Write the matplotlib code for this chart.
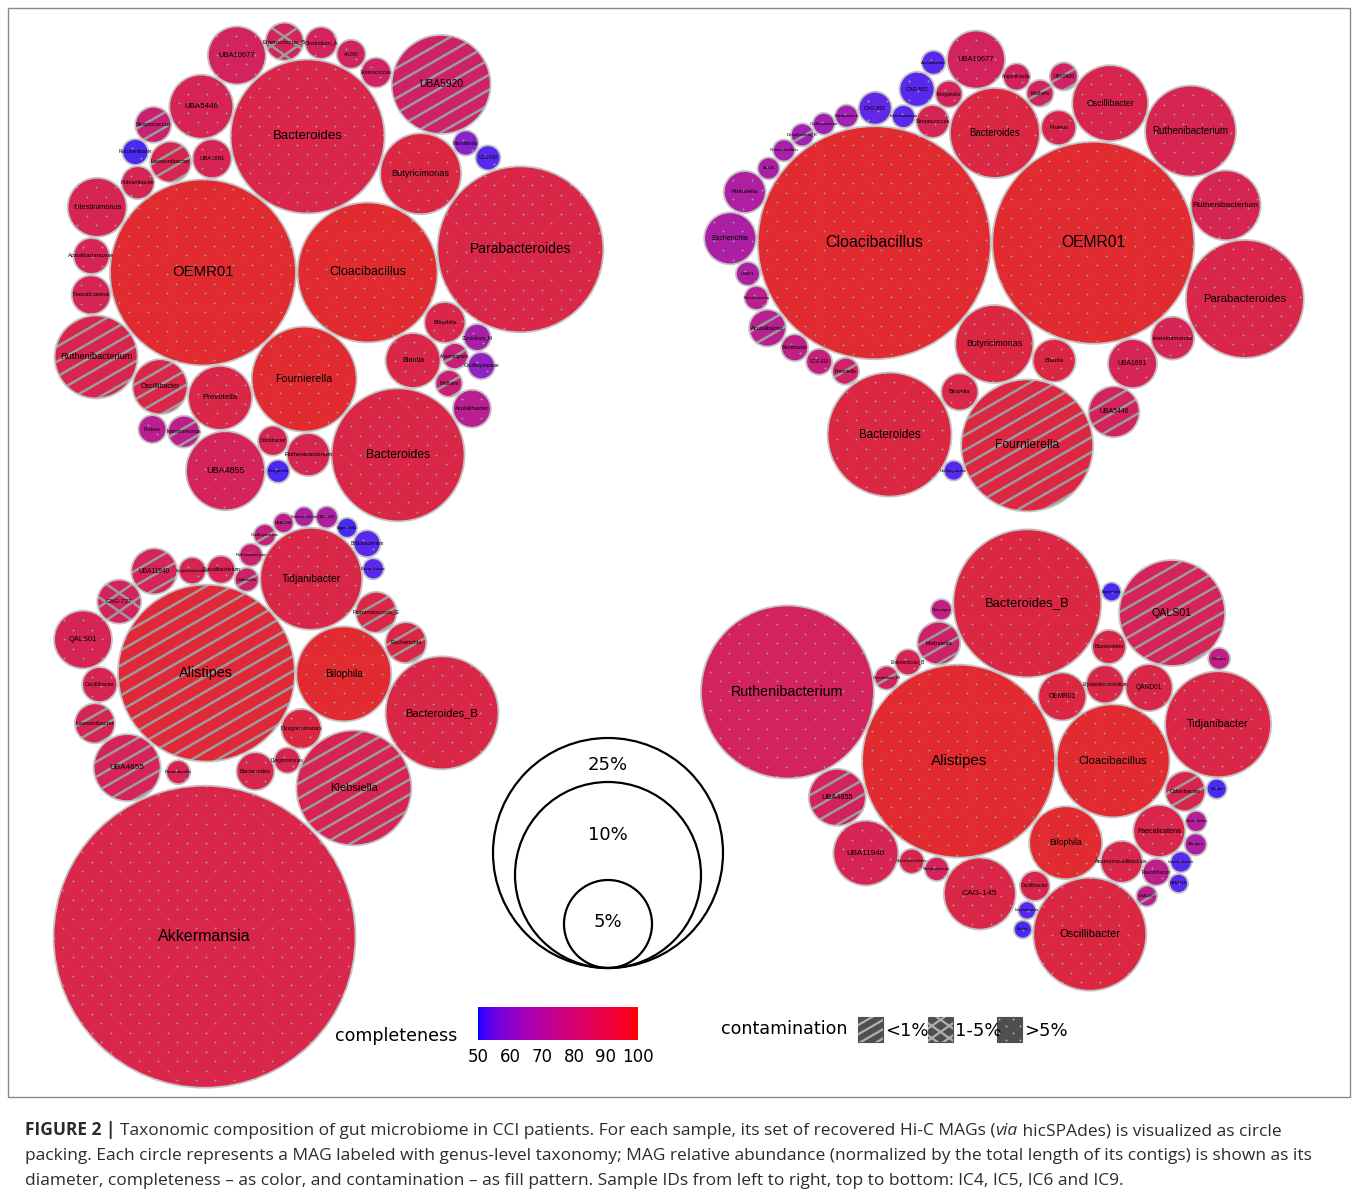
import numpy as np
import matplotlib
matplotlib.use("Agg")
import matplotlib.pyplot as plt
from matplotlib.patches import Circle, Rectangle
from matplotlib.collections import LineCollection
from matplotlib.colors import ListedColormap

W, H = 1358, 1192

# MAG tables per sample: genus label, relative abundance (diameter units),
# completeness (%), contamination class
ic4_names = ["OEMR01", "Parabacteroides", "Bacteroides", "Cloacibacillus", "Bacteroides",
             "Fournierella", "UBA5920", "Ruthenibacterium", "Butyricimonas", "UBA4855",
             "Prevotella", "UBA5446", "Intestinimonas", "UBA10677", "Oscillibacter",
             "Blautia", "Ruthenibacterium", "Bilophila", "Lawsonibacter", "Faecalicatena",
             "UBA1691", "Enterococcus_B", "Acutalibacter", "Acutalibacteraceae", "Streptococcus",
             "Rubneribacter", "Clostridium_A", "Intestinimonas", "Enterococcus", "Odoribacter",
             "An200", "Proteus", "Clostridium_M", "Oscillospiraceae", "Mailhella",
             "Anaerotignum", "Fusicatenibacter", "Massiliimalia", "UCG-010", "Morganella"]
ic4_abund = [18.6, 16.6, 15.4, 14.0, 13.3, 10.5, 9.9, 8.3, 8.1, 7.9,
             6.4, 6.4, 5.9, 5.8, 5.5, 5.5, 4.3, 4.1, 4.1, 3.9,
             3.9, 3.8, 3.8, 3.6, 3.6, 3.3, 3.2, 3.2, 3.0, 3.0,
             2.9, 2.8, 2.7, 2.7, 2.7, 2.6, 2.6, 2.5, 2.5, 2.3]
ic4_compl = [98, 92, 91, 98, 92, 98, 83, 90, 93, 87,
             92, 88, 89, 86, 91, 92, 89, 91, 89, 88,
             88, 87, 72, 88, 80, 89, 86, 74, 84, 88,
             85, 72, 66, 60, 80, 78, 51, 58, 52, 51]
ic4_contam = [">5%", ">5%", ">5%", ">5%", ">5%", ">5%", "<1%", "<1%", ">5%", ">5%",
              ">5%", ">5%", ">5%", ">5%", "<1%", ">5%", ">5%", ">5%", "<1%", ">5%",
              ">5%", "1-5%", ">5%", ">5%", "<1%", ">5%", ">5%", "<1%", ">5%", ">5%",
              ">5%", ">5%", ">5%", ">5%", "<1%", "<1%", ">5%", ">5%", ">5%", ">5%"]

ic5_names = ["Cloacibacillus", "OEMR01", "Fournierella", "Bacteroides", "Parabacteroides",
             "Ruthenibacterium", "Bacteroides", "Butyricimonas", "Oscillibacter", "Ruthenibacterium",
             "UBA10677", "Escherichia", "UBA5446", "UBA1691", "Intestinimonas",
             "Blautia", "Klebsiella", "Bilophila", "Acutalibacter", "Proteus",
             "CAG-552", "CAG-552", "Streptococcus", "UBA5920", "Morganella",
             "Angelakisella", "Mailhella", "Merdibacter", "Prevotella", "UCG-010",
             "Acutalibacter", "UBA71", "Enterococcus", "Intestinimonas", "Eubacterium",
             "Desulfovibrio_R", "Oscillospiraceae", "Christensenellales", "An200", "Oscillospiraceae"]
ic5_abund = [23.3, 20.2, 13.2, 12.4, 11.8, 9.1, 9.0, 7.8, 7.6, 7.0,
             5.8, 5.2, 5.1, 4.9, 4.3, 4.3, 4.2, 3.7, 3.7, 3.5,
             3.5, 3.3, 3.3, 2.8, 2.7, 2.7, 2.7, 2.7, 2.7, 2.6,
             2.4, 2.4, 2.4, 2.3, 2.3, 2.3, 2.2, 2.2, 2.2, 2.0]
ic5_compl = [98, 98, 93, 93, 91, 89, 93, 93, 90, 89,
             86, 67, 86, 88, 88, 93, 68, 92, 72, 90,
             52, 53, 88, 84, 87, 86, 85, 75, 84, 78,
             52, 68, 72, 52, 64, 64, 64, 66, 67, 52]
ic5_contam = [">5%", ">5%", "<1%", ">5%", ">5%", ">5%", ">5%", ">5%", ">5%", ">5%",
              ">5%", ">5%", "<1%", ">5%", ">5%", ">5%", ">5%", ">5%", "<1%", ">5%",
              ">5%", ">5%", ">5%", "<1%", ">5%", ">5%", "<1%", ">5%", "<1%", ">5%",
              ">5%", ">5%", ">5%", ">5%", ">5%", "<1%", ">5%", ">5%", ">5%", ">5%"]

ic6_names = ["Akkermansia", "Alistipes", "Klebsiella", "Bacteroides_B", "Tidjanibacter",
             "Bilophila", "UBA4855", "QALS01", "UBA11940", "CAG-727",
             "Ruminococcus_E", "Escherichia", "Lawsonibacter", "Dysgonomonas", "Bacteroides",
             "Oscillibacter", "Faecalibacterium", "Erysipelatoclostridium", "Bifidobacterium", "Dysgonomonas",
             "Collinsella", "Parasutterella", "Ruthenibacterium", "Oscillospiraceae", "CAG-145",
             "Flavonifractor", "UBA4248", "Christensenellaceae", "Eggerthella"]
ic6_abund = [30.2, 17.7, 11.5, 11.3, 10.2, 9.5, 6.7, 5.8, 4.6, 4.4,
             4.1, 4.1, 4.0, 4.0, 3.8, 3.5, 2.8, 2.7, 2.7, 2.6,
             2.4, 2.4, 2.3, 2.2, 2.2, 2.1, 2.0, 2.0, 2.0]
ic6_compl = [91, 96, 88, 92, 92, 98, 87, 88, 87, 86,
             92, 92, 88, 93, 90, 89, 88, 88, 52, 89,
             82, 88, 82, 78, 68, 52, 75, 68, 51]
ic6_contam = [">5%", "<1%", "<1%", ">5%", ">5%", ">5%", "<1%", ">5%", "<1%", "1-5%",
              "<1%", "<1%", "<1%", ">5%", ">5%", ">5%", ">5%", ">5%", ">5%", ">5%",
              "<1%", ">5%", ">5%", "<1%", ">5%", ">5%", ">5%", ">5%", ">5%"]

ic9_names = ["Alistipes", "Ruthenibacterium", "Bacteroides_B", "Cloacibacillus", "Oscillibacter",
             "QALS01", "Tidjanibacter", "Bilophila", "CAG-145", "UBA11940",
             "UBA4855", "OEMR01", "QAND01", "Faecalicatena", "Klebsiella",
             "Anaeromassilibacillus", "Odoribacter", "Erysipelatoclostridium", "Bacteroides", "Oscillibacter",
             "Enterococcus_B", "Christensenellales", "Streptococcus", "Clostridium_M", "Proteus",
             "Gemmiger", "Eggerthella", "Blautia", "Intestinimonas", "Blautia",
             "Bacteroides", "Alistipes", "Lawsonibacter", "UBA1946", "UBA1382", "Flavonifractor"]
ic9_abund = [19.3, 17.3, 14.8, 11.3, 11.3, 10.6, 10.6, 7.3, 7.2, 6.5,
             5.7, 4.8, 4.7, 5.2, 4.3, 4.2, 4.0, 3.8, 3.4, 3.0,
             2.6, 2.5, 2.4, 2.4, 2.2, 2.1, 1.9, 2.0, 1.8, 1.8,
             2.1, 2.2, 2.1, 1.9, 2.1, 2.7]
ic9_compl = [98, 86, 93, 98, 93, 87, 92, 98, 92, 88,
             86, 93, 92, 91, 83, 91, 90, 92, 92, 90,
             88, 90, 86, 86, 75, 76, 51, 51, 52, 51,
             70, 68, 52, 52, 74, 74]
ic9_contam = [">5%", ">5%", ">5%", ">5%", ">5%", "<1%", ">5%", ">5%", ">5%", ">5%",
              "<1%", ">5%", ">5%", ">5%", "<1%", ">5%", "<1%", ">5%", ">5%", ">5%",
              ">5%", ">5%", ">5%", "<1%", ">5%", ">5%", ">5%", ">5%", ">5%", ">5%",
              ">5%", ">5%", ">5%", ">5%", "<1%", ">5%"]

size_legend = [25, 10, 5]
compl_ticks = [50, 60, 70, 80, 90, 100]
contam_classes = ["<1%", "1-5%", ">5%"]

caption_lines = [
    "packing. Each circle represents a MAG labeled with genus-level taxonomy; MAG relative "
    "abundance (normalized by the total length of its contigs) is shown as its",
    "diameter, completeness \u2013 as color, and contamination \u2013 as fill pattern. "
    "Sample IDs from left to right, top to bottom: IC4, IC5, IC6 and IC9.",
]

# packing topology: first two circles, then which two circles each further
# circle rests against: (child, touches a, touches b[, side])
ic4_seed = (0, 3)
ic4_links = [(2, 0, 3), (5, 0, 3), (8, 2, 3), (1, 3, 8), (17, 3, 1), (15, 3, 17), (4, 5, 15),
             (10, 0, 5), (14, 0, 10), (7, 0, 14), (20, 0, 2), (11, 2, 20), (13, 2, 11),
             (18, 0, 20), (25, 0, 18), (12, 0, 25), (23, 0, 12), (19, 0, 23), (24, 11, 18),
             (36, 18, 25), (21, 2, 13), (26, 2, 21), (30, 2, 26), (28, 2, 30), (6, 8, 28),
             (37, 8, 6), (38, 1, 37), (32, 1, 17), (35, 17, 15), (33, 32, 35), (34, 15, 35),
             (22, 4, 34), (16, 5, 4), (29, 5, 16), (9, 10, 29), (39, 9, 16), (27, 10, 9),
             (31, 14, 27)]
ic5_seed = (0, 1)
ic5_links = [(6, 0, 1), (7, 0, 1), (15, 1, 7), (2, 7, 15), (17, 7, 2), (19, 1, 6), (8, 1, 19),
             (5, 1, 8), (9, 1, 5), (4, 1, 9), (14, 1, 4), (13, 1, 14), (12, 13, 2), (22, 0, 6),
             (24, 6, 22), (10, 6, 24), (25, 6, 10), (26, 6, 25), (23, 26, 8), (33, 0, 22),
             (20, 22, 33), (30, 20, 10), (21, 0, 33), (34, 0, 21), (36, 0, 34), (35, 0, 36),
             (37, 0, 35), (38, 0, 37), (16, 0, 38), (11, 0, 16), (31, 0, 11), (32, 0, 31),
             (18, 0, 32), (27, 0, 18), (29, 0, 27), (28, 0, 29), (3, 28, 17), (39, 3, 2)]
ic6_seed = (1, 5)
ic6_links = [(4, 1, 5), (10, 4, 5), (11, 5, 10), (3, 5, 11), (13, 1, 5), (2, 13, 3), (19, 13, 2),
             (14, 1, 19), (0, 14, 2), (20, 4, 1), (16, 1, 20), (17, 1, 16), (8, 1, 17), (9, 1, 8),
             (7, 1, 9), (15, 1, 7), (12, 1, 15), (6, 1, 12), (21, 1, 0, 1), (22, 4, 20),
             (23, 4, 22), (26, 4, 23), (27, 4, 26), (24, 4, 27), (28, 4, 24), (18, 4, 28),
             (25, 4, 18)]
ic9_seed = (0, 1)
ic9_links = [(10, 0, 1, -1), (23, 0, 1), (20, 0, 23), (14, 0, 20), (2, 0, 14), (25, 14, 2),
             (11, 0, 2), (3, 0, 11), (17, 11, 3), (18, 17, 2), (12, 17, 3), (5, 18, 12),
             (26, 2, 5), (6, 3, 12), (24, 5, 6), (16, 3, 6), (27, 6, 16), (13, 3, 16), (7, 0, 3),
             (15, 7, 13), (4, 7, 15), (19, 7, 4), (9, 0, 10), (21, 0, 9), (22, 0, 21), (8, 0, 22),
             (28, 19, 4), (29, 4, 28), (30, 13, 16), (31, 13, 30), (35, 13, 15), (32, 31, 35),
             (33, 32, 35), (34, 4, 35)]

# ---------------------------------------------------------------- helpers
PX = 10.0  # pixels of diameter per abundance unit


def srgb_to_lab(rgb):
    c = np.asarray(rgb, float)
    c = np.where(c <= 0.04045, c / 12.92, ((c + 0.055) / 1.055) ** 2.4)
    m = np.array([[0.4124, 0.3576, 0.1805], [0.2126, 0.7152, 0.0722], [0.0193, 0.1192, 0.9505]])
    xyz = m @ c / np.array([0.95047, 1.0, 1.08883])
    d = 6 / 29
    f = np.where(xyz > d ** 3, np.cbrt(xyz), xyz / (3 * d * d) + 4 / 29)
    return np.array([116 * f[1] - 16, 500 * (f[0] - f[1]), 200 * (f[1] - f[2])])


def lab_to_srgb(lab):
    L, a, b = lab
    fy = (L + 16) / 116
    f = np.array([fy + a / 500, fy, fy - b / 200])
    d = 6 / 29
    xyz = np.where(f > d, f ** 3, 3 * d * d * (f - 4 / 29)) * np.array([0.95047, 1.0, 1.08883])
    m = np.array([[3.2406, -1.5372, -0.4986], [-0.9689, 1.8758, 0.0415], [0.0557, -0.2040, 1.0570]])
    c = np.clip(m @ xyz, 0, 1)
    c = np.where(c <= 0.0031308, 12.92 * c, 1.055 * c ** (1 / 2.4) - 0.055)
    return np.clip(c, 0, 1)


def lab_ramp(lo, hi, n=256, gamma=1.0):
    a, b = srgb_to_lab(lo), srgb_to_lab(hi)
    return ListedColormap([lab_to_srgb(a + t ** gamma * (b - a)) for t in np.linspace(0, 1, n)])


cmap = lab_ramp([0, 0, 1], [1, 0, 0])
# circles are printed a little duller than the key
fill_cmap = lab_ramp(np.array([44, 44, 250]) / 255, np.array([228, 44, 40]) / 255, gamma=0.85)


def fill_colour(compl):
    return fill_cmap((compl - 50) / 50.0)


def tangent_spots(pa, ra, pb, rb, rc):
    v = pb - pa
    d = max(np.hypot(*v), 1e-9)
    u = v / d
    A, B = ra + rc, rb + rc
    if d >= A + B or d <= abs(A - B):
        return [pa + u * (ra + (d - ra - rb) / 2)]
    x = (A * A - B * B + d * d) / (2 * d)
    h = np.sqrt(max(A * A - x * x, 0.0))
    perp = np.array([-u[1], u[0]])
    return [pa + u * x + perp * h, pa + u * x - perp * h]


def build_layout(rad, seed, angle, links):
    n = len(rad)
    pos = np.zeros((n, 2))
    first, second = seed
    done = [first, second]
    t = np.deg2rad(angle)
    pos[second] = np.array([np.cos(t), np.sin(t)]) * (rad[first] + rad[second])
    for link in links:
        c, a, b = link[:3]
        side = link[3] if len(link) > 3 else 0
        spots = tangent_spots(pos[a], rad[a], pos[b], rad[b], rad[c])
        if len(spots) == 1:
            best = spots[0]
        elif side:
            v = pos[b] - pos[a]
            cr = [v[0] * (p[1] - pos[a][1]) - v[1] * (p[0] - pos[a][0]) for p in spots]
            best = spots[0] if np.sign(cr[0]) == side else spots[1]
        else:
            others = [k for k in done if k not in (a, b)]
            pen = []
            for p in spots:
                ov = [rad[k] + rad[c] - np.hypot(*(pos[k] - p)) for k in others]
                pen.append(max([0.0] + ov))
            if max(pen) < 2.0:
                cen = pos[done].mean(axis=0)
                dist = [np.hypot(*(p - cen)) for p in spots]
                if abs(dist[0] - dist[1]) < 1e-6:
                    best = spots[0] if spots[0][1] < spots[1][1] else spots[1]
                else:
                    best = spots[int(np.argmax(dist))]
            else:
                best = spots[int(np.argmin(pen))]
        pos[c] = best
        done.append(c)
    # nudge apart whatever overlaps because of rounding in the sizes
    for _ in range(80):
        moved = False
        for i in range(n):
            for j in range(i + 1, n):
                v = pos[j] - pos[i]
                d = max(np.hypot(*v), 1e-9)
                ov = rad[i] + rad[j] - d
                if ov > 0.3:
                    u = v / d
                    wi = rad[j] ** 2 / (rad[i] ** 2 + rad[j] ** 2)
                    pos[i] -= u * ov * wi
                    pos[j] += u * ov * (1 - wi)
                    moved = True
        if not moved:
            break
    return pos


GREY = "#9c9c9c"


def add_pattern(ax, cx, cy, rad, kind, clip, colour=GREY, lw=1.8, space=13.0, dot=2.5):
    if kind == ">5%":
        step = space + 6
        gx, gy = [], []
        rows = np.arange(cy - rad - step, cy + rad + step, step * 0.5)
        for ri, yy in enumerate(rows):
            off = (step / 2) * (ri % 2)
            for xx in np.arange(cx - rad - step + off, cx + rad + step, step):
                gx.append(xx)
                gy.append(yy)
        pts = ax.scatter(gx, gy, s=dot, marker="+", c=colour, linewidths=0.7, zorder=3)
        pts.set_clip_path(clip)
        return
    angles = [30] if kind == "<1%" else [35, -35]
    segs = []
    for ang in angles:
        t = np.deg2rad(ang)
        d = np.array([np.cos(t), -np.sin(t)])
        nv = np.array([np.sin(t), np.cos(t)])
        sp = space if kind == "<1%" else space + 2
        for o in np.arange(-rad - sp, rad + sp, sp):
            p = np.array([cx, cy]) + nv * o
            segs.append([p - d * rad * 1.5, p + d * rad * 1.5])
    lc = LineCollection(segs, colors=colour, linewidths=lw, zorder=3)
    ax.add_collection(lc)
    lc.set_clip_path(clip)


def label_size(diam, name):
    fs = min(11.5, 0.49 * diam ** 0.59)
    # keep long names on tiny circles from spilling far outside
    fit = (1.3 * diam + 4) / (0.52 * len(name) * 1.389)
    return max(2.0, min(fs, fit))


def draw_sample(ax, names, abund, compl, contam, seed, angle, links, centre):
    rad = np.array(abund) * PX / 2
    pos = build_layout(rad + 0.8, seed, angle, links)
    px, py = pos[:, 0], pos[:, 1]
    px = px - ((px - rad).min() + (px + rad).max()) / 2 + centre[0]
    py = py - ((py - rad).min() + (py + rad).max()) / 2 + centre[1]
    for k in range(len(rad)):
        cx, cy, rr = px[k], py[k], rad[k]
        circ = Circle((cx, cy), rr, facecolor=fill_colour(compl[k]), edgecolor="none", zorder=2)
        ax.add_patch(circ)
        add_pattern(ax, cx, cy, rr, contam[k], circ)
        ax.add_patch(Circle((cx, cy), rr, facecolor="none", edgecolor="#c4c4c4", lw=1.3, zorder=4))
        ax.text(cx, cy, names[k], fontsize=label_size(2 * rr, names[k]), ha="center", va="center",
                family="Liberation Sans", color="black", zorder=5)


# ---------------------------------------------------------------- figure
fig = plt.figure(figsize=(W / 100, H / 100), dpi=100)
ax = fig.add_axes([0, 0, 1, 1])
ax.set_xlim(0, W)
ax.set_ylim(H, 0)
ax.axis("off")

ax.add_patch(Rectangle((8, 8), 1342, 1089, facecolor="none", edgecolor="#8a8a8a", lw=1.0, zorder=1))

draw_sample(ax, ic4_names, ic4_abund, ic4_compl, ic4_contam, ic4_seed, 0, ic4_links, (329, 272))
draw_sample(ax, ic5_names, ic5_abund, ic5_compl, ic5_contam, ic5_seed, 0, ic5_links, (1004, 271))
draw_sample(ax, ic6_names, ic6_abund, ic6_compl, ic6_contam, ic6_seed, 0, ic6_links, (276, 797))
draw_sample(ax, ic9_names, ic9_abund, ic9_compl, ic9_contam, ic9_seed, -158, ic9_links, (986, 760))

# size legend: nested circles resting on one point
legend_diam = [230, 186, 88]
base_x, base_y = 608, 968
label_y = [765, 835, 922]
for v, d, ly in zip(size_legend, legend_diam, label_y):
    ax.add_patch(Circle((base_x, base_y - d / 2), d / 2, facecolor="none", edgecolor="black", lw=1.6, zorder=6))
    ax.text(base_x, ly, f"{v}%", fontsize=13, ha="center", va="center", family="DejaVu Sans", zorder=6)

# completeness colour bar
cb_x0, cb_x1, cb_y0, cb_y1 = 478, 638, 1007, 1040
grad = np.linspace(0, 1, 256)[None, :]
ax.imshow(grad, cmap=cmap, extent=(cb_x0, cb_x1, cb_y1, cb_y0), aspect="auto", zorder=2)
ax.text(396, 1036, "completeness", fontsize=12.6, ha="center", va="center", family="DejaVu Sans")
for v in compl_ticks:
    tx = cb_x0 + (v - 50) / 50 * (cb_x1 - cb_x0)
    ax.text(tx, 1057, str(v), fontsize=12, ha="center", va="center", family="DejaVu Sans")

# contamination key
ax.text(784, 1029, "contamination", fontsize=12.6, ha="center", va="center", family="DejaVu Sans")
key_x = [858, 928, 997]
for kx, cls in zip(key_x, contam_classes):
    sq = Rectangle((kx, 1017), 25, 25, facecolor="#4f4f4f", edgecolor="#4f4f4f", lw=0.8, zorder=2)
    ax.add_patch(sq)
    add_pattern(ax, kx + 12.5, 1029.5, 18, cls, sq, colour="#b0b0b0", lw=1.6, space=8.0, dot=3.0)
    ax.text(kx + 27, 1031, cls, fontsize=13, ha="left", va="center", family="DejaVu Sans")

# caption
cap_kw = dict(fontsize=12.5, family="Open Sans", color="#2b2b2b", va="bottom")
t0 = ax.text(25, 1139, "FIGURE 2 | ", fontweight="bold", **cap_kw)
t1 = ax.annotate("Taxonomic composition of gut microbiome in CCI patients. For each sample, its set "
                 "of recovered Hi-C MAGs (", xy=(1, 0), xycoords=t0, **cap_kw)
t2 = ax.annotate("via", xy=(1, 0), xycoords=t1, style="italic", **cap_kw)
ax.annotate(" hicSPAdes) is visualized as circle", xy=(1, 0), xycoords=t2, **cap_kw)
for k, line in enumerate(caption_lines):
    ax.text(25, 1164 + 25 * k, line, **cap_kw)

fig.savefig("out.png", dpi=100)
